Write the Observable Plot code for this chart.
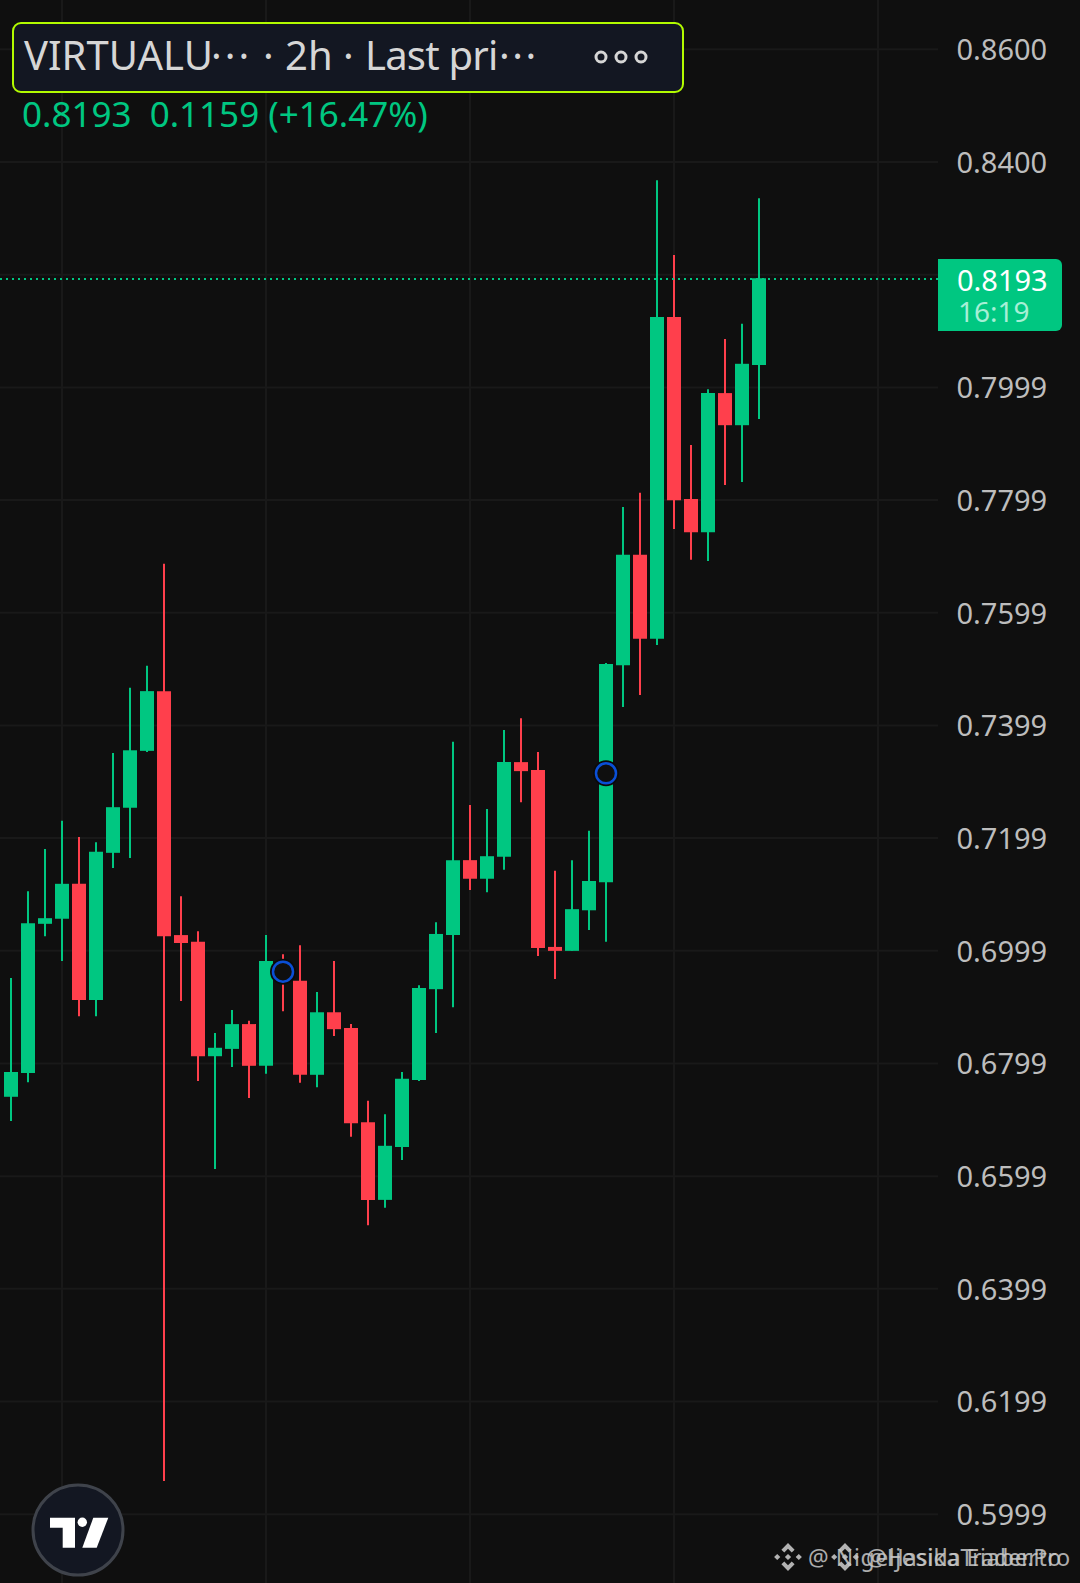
<!DOCTYPE html>
<html>
<head>
<meta charset="utf-8">
<script src="https://cdn.jsdelivr.net/npm/d3@7"></script>
<script src="https://cdn.jsdelivr.net/npm/@observablehq/plot@0.6"></script>
<style>
html,body{margin:0;padding:0;background:#0f0f0f;}
#wrap{position:relative;width:1080px;height:1583px;overflow:hidden;font-family:"Noto Sans",sans-serif;}
#chart svg{display:block;}
.abs{position:absolute;white-space:pre;line-height:1;}
.t{top:35px;font-size:40px;color:#d6d6d6;}
</style>
</head>
<body>
<div id="wrap">
  <div id="chart"></div>
  <div class="abs" style="left:12px;top:22px;width:668px;height:67px;background:#131722;border:2px solid #b2fb00;border-radius:9px;"></div>
  <div id="ttl"></div>
  <svg class="abs" style="left:590px;top:47px" width="64" height="20"><g fill="none" stroke="#d6d6d6" stroke-width="3"><circle cx="11" cy="10" r="5"/><circle cx="31" cy="10" r="5"/><circle cx="51" cy="10" r="5"/></g></svg>
  <div class="abs" id="vals" style="left:22px;top:96px;font-size:35px;color:#00c781;"></div>
  <div class="abs" style="left:938px;top:259px;width:124px;height:72px;background:#00c781;border-radius:0 6px 6px 0;"></div>
  <div class="abs" id="lastP" style="left:957px;top:265px;font-size:29px;color:#fff;"></div>
  <div class="abs" id="lastT" style="left:958px;top:297px;font-size:28px;color:#a6efd6;"></div>
  <svg class="abs" style="left:0;top:1480px" width="140" height="103">
    <circle cx="78" cy="50" r="45" fill="#131722" stroke="#3f434b" stroke-width="3"/>
    <g fill="#fff">
      <path d="M50 37.7H75V67.7H62.7V47.7H50Z"/>
      <circle cx="82.3" cy="42.3" r="4.7"/>
      <path d="M93.3 37.7H108.3L96.7 67.7H82.3Z"/>
    </g>
  </svg>
  <svg class="abs" style="left:770px;top:1540px;opacity:.85" width="100" height="36">
    <g fill="#cfcfcf">
      <path id="bn" d="M16 4l5.5 5.5-2.4 2.4L16 8.8l-3.1 3.1-2.4-2.4ZM7 13l2.6 2.6L7 18.2 4.4 15.6ZM25 13l2.6 2.6L25 18.2l-2.6-2.6ZM16 13l2.6 2.6L16 18.2l-2.6-2.6ZM10.5 21.7l2.4-2.4 3.1 3.1 3.1-3.1 2.4 2.4L16 27.2Z" transform="translate(18 17) scale(1.2) translate(-16 -15.6)"/>
      <use href="#bn" x="57"/>
    </g>
  </svg>
  <div class="abs" id="wm1" style="left:808px;top:1546px;font-size:23px;letter-spacing:.6px;color:#c8c8c8;opacity:.85;"></div>
  <div class="abs" id="wm2" style="left:866px;top:1546px;font-size:23px;color:#c8c8c8;opacity:.85;"></div>
</div>
<script>
const titleParts = ["VIRTUALU", "\u00b7\u00b7\u00b7", "\u00b7", "2h", "\u00b7", "Last pri", "\u00b7\u00b7\u00b7"];
const titleLefts = [24,211,263,285,343,365,499];
const titleSpacing = [0,3,0,0,0,-0.8,2.5];
const valuesText = "0.8193  0.1159 (+16.47%)";
const lastPrice = 0.8193;
const lastPriceText = "0.8193";
const countdownText = "16:19";
const watermarks = ["@ Nigeljesika Eiaberto", "@HasidaTrader.Pro"];

const opens  = [0.6740,0.6782,0.7047,0.7056,0.7118,0.6912,0.7173,0.7253,0.7354,0.7460,0.7027,0.7015,0.6812,0.6825,0.6869,0.6795,0.6981,0.6946,0.6779,0.6890,0.6862,0.6695,0.6557,0.6651,0.6770,0.6931,0.7027,0.7160,0.7127,0.7166,0.7334,0.7320,0.7006,0.6999,0.7071,0.7121,0.7506,0.7702,0.7553,0.8124,0.7801,0.7742,0.7989,0.7932,0.8039];
const highs  = [0.6951,0.7105,0.7180,0.7230,0.7201,0.7192,0.7350,0.7466,0.7505,0.7686,0.7096,0.7034,0.6853,0.6894,0.6875,0.7027,0.6993,0.7009,0.6926,0.6981,0.6869,0.6733,0.6709,0.6784,0.6938,0.7050,0.7370,0.7258,0.7251,0.7391,0.7412,0.7352,0.7141,0.7160,0.7212,0.7510,0.7787,0.7812,0.8367,0.8234,0.7897,0.7996,0.8085,0.8112,0.8335];
const lows   = [0.6697,0.6766,0.7025,0.6981,0.6883,0.6883,0.7146,0.7164,0.7352,0.6058,0.6910,0.6768,0.6612,0.6793,0.6738,0.6781,0.6892,0.6765,0.6757,0.6848,0.6669,0.6512,0.6543,0.6628,0.6768,0.6853,0.6899,0.7107,0.7103,0.7143,0.7263,0.6990,0.6949,0.6999,0.7036,0.7015,0.7432,0.7453,0.7542,0.7748,0.7693,0.7691,0.7826,0.7831,0.7943];
const closes = [0.6784,0.7048,0.7057,0.7118,0.6912,0.7175,0.7254,0.7355,0.7460,0.7025,0.7013,0.6812,0.6827,0.6869,0.6795,0.6981,0.6946,0.6779,0.6890,0.6860,0.6693,0.6557,0.6653,0.6772,0.6933,0.7029,0.7160,0.7127,0.7167,0.7334,0.7318,0.7004,0.6999,0.7073,0.7123,0.7508,0.7702,0.7553,0.8124,0.7799,0.7742,0.7989,0.7932,0.8041,0.8193];

const gridPrices = [0.60,0.62,0.64,0.66,0.68,0.70,0.72,0.74,0.76,0.78,0.80,0.82,0.84,0.86];
const axisPrices = [0.60,0.62,0.64,0.66,0.68,0.70,0.72,0.74,0.76,0.78,0.80,0.84,0.86];
const axisLabels = ["0.5999","0.6199","0.6399","0.6599","0.6799","0.6999","0.7199","0.7399","0.7599","0.7799","0.7999","0.8400","0.8600"];
const gridBars = [3,15,27,39,51];
const signalBars = [16,35];
const signalPrices = [0.6963,0.7315];

const GREEN = "#00c781", RED = "#ff3f4c", BG = "#0f0f0f", GRID = "#191919";
const bars = opens.map((o,i)=>({i,o,h:highs[i],l:lows[i],c:closes[i],col:closes[i]>=o?GREEN:RED}));
const signals = signalBars.map((b,i)=>({b,p:signalPrices[i]}));

const H = 1583, pxPerUnit = 5634, y80 = 386.9;
const chart = Plot.plot({
  width:1080, height:H,
  marginTop:0, marginBottom:0, marginLeft:0, marginRight:142,
  style:{background:BG,color:"#bdbdbd",fontFamily:'"Noto Sans",sans-serif',overflow:"visible"},
  x:{type:"linear",domain:[-11/17,(938-11)/17],axis:null},
  y:{type:"linear",domain:[0.8+(y80-H)/pxPerUnit,0.8+y80/pxPerUnit],axis:null},
  marks:[
    Plot.ruleX(gridBars,{x:d=>d,stroke:GRID,strokeWidth:2,dx:-0.5}),
    Plot.ruleY(gridPrices,{y:d=>d,stroke:GRID,strokeWidth:2}),
    Plot.ruleX(bars,{x:"i",y1:"l",y2:"h",stroke:"col",strokeWidth:2,dx:-0.5}),
    Plot.ruleX(bars,{x:"i",y1:"o",y2:"c",stroke:"col",strokeWidth:14,dx:-0.5}),
    Plot.ruleY([lastPrice],{y:d=>d,stroke:GREEN,strokeWidth:2,strokeDasharray:"2,4",dy:0.5,shapeRendering:"crispEdges"}),
    Plot.dot(signals,{x:"b",y:"p",r:13,fill:"#0a0a0a",stroke:null,dx:-0.5}),
    Plot.dot(signals,{x:"b",y:"p",r:10,fill:BG,stroke:"#0a4fd6",strokeWidth:2.5,dx:-0.5}),
    Plot.axisY(axisPrices,{anchor:"right",tickSize:0,tickPadding:18,fontSize:29,dy:1.5,fill:"#bdbdbd",label:null,
      tickFormat:d=>axisLabels[axisPrices.indexOf(d)]})
  ]
});
document.getElementById("chart").appendChild(chart);
const ttl = document.getElementById("ttl");
titleParts.forEach((s,i)=>{
  const e = document.createElement("div");
  e.className = "abs t";
  e.style.left = titleLefts[i]+"px";
  e.style.letterSpacing = titleSpacing[i]+"px";
  e.textContent = s;
  ttl.appendChild(e);
});
document.getElementById("vals").textContent = valuesText;
document.getElementById("lastP").textContent = lastPriceText;
document.getElementById("lastT").textContent = countdownText;
document.getElementById("wm1").textContent = watermarks[0];
document.getElementById("wm2").textContent = watermarks[1];
</script>
</body>
</html>
